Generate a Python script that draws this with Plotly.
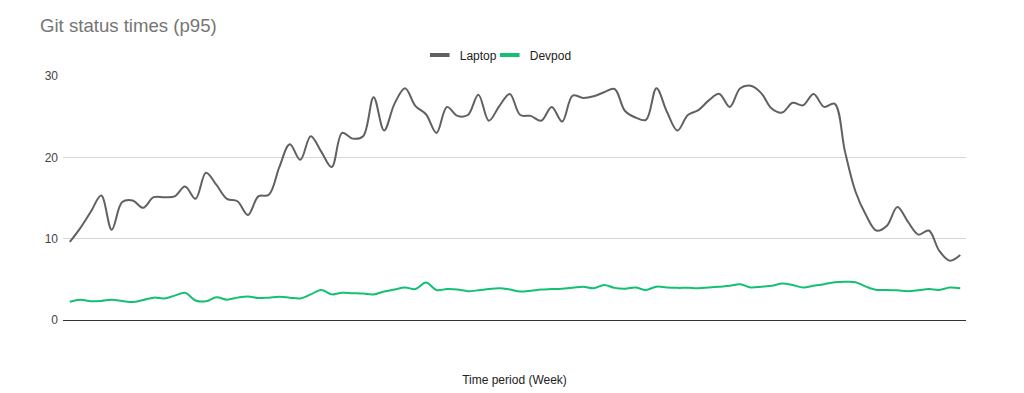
import plotly.graph_objects as go

weeks = list(range(1, 87))

laptop = [
    9.6, 11.3, 13.3, 15.3, 11.1, 14.5, 14.7, 13.8, 15.1, 15.1,
    15.2, 16.4, 14.9, 18.1, 16.6, 14.9, 14.6, 12.9, 15.2, 15.4,
    18.8, 21.6, 19.7, 22.6, 20.7, 18.8, 23.0, 22.3, 22.6, 27.4,
    23.3, 26.6, 28.5, 26.3, 25.3, 23.0, 26.2, 25.1, 25.2, 27.7,
    24.5, 26.3, 27.8, 25.2, 25.1, 24.5, 26.2, 24.4, 27.6, 27.3,
    27.5, 28.0, 28.4, 25.7, 24.9, 24.6, 28.5, 25.6, 23.3, 25.2,
    25.8, 27.0, 27.8, 26.2, 28.5, 28.8, 27.9, 26.0, 25.5, 26.7,
    26.4, 27.8, 26.2, 26.6, 20.7, 15.8, 12.9, 11.0, 11.6, 13.9,
    12.1, 10.5, 11.0, 8.5, 7.3, 8.0,
]

devpod = [
    2.25, 2.5, 2.3, 2.35, 2.5, 2.35, 2.2, 2.45, 2.75, 2.65,
    3.0, 3.35, 2.4, 2.3, 2.8, 2.5, 2.75, 2.9, 2.7, 2.75,
    2.85, 2.75, 2.65, 3.15, 3.7, 3.15, 3.35, 3.3, 3.25, 3.15,
    3.5, 3.75, 4.0, 3.8, 4.6, 3.7, 3.8, 3.75, 3.55, 3.65,
    3.8, 3.9, 3.75, 3.5, 3.6, 3.75, 3.8, 3.85, 3.95, 4.1,
    3.9, 4.3, 3.95, 3.85, 4.0, 3.7, 4.1, 4.0, 3.95, 3.95,
    3.9, 4.0, 4.1, 4.2, 4.4, 4.0, 4.1, 4.2, 4.5, 4.3,
    4.0, 4.2, 4.4, 4.65, 4.7, 4.65, 4.1, 3.7, 3.7, 3.65,
    3.55, 3.65, 3.8, 3.7, 4.0, 3.9,
]

series_names = ["Laptop", "Devpod"]
series_colors = ["#616161", "#14c172"]
legend_widths = [25, None]
y_ticks = [0, 10, 20, 30]

FONT = "Liberation Sans, Arial, sans-serif"

fig = go.Figure()
for name, vals, col in zip(series_names, [laptop, devpod], series_colors):
    fig.add_trace(go.Scatter(
        x=weeks, y=vals, name=name, mode="lines", showlegend=False,
        legendgroup=name,
        line=dict(color=col, width=2, shape="spline", smoothing=1.0),
    ))
# legend-only entries with short thick bar icons
for name, col, lw in zip(series_names, series_colors, legend_widths):
    fig.add_trace(go.Scatter(
        x=[None], y=[None], name=name, mode="markers", legendgroup=name,
        legendwidth=lw,
        marker=dict(symbol="line-ew", size=14, color=col,
                    line=dict(color=col, width=4)),
    ))

fig.update_layout(
    width=1024, height=393,
    margin=dict(l=63, r=58, t=76, b=73),
    paper_bgcolor="white", plot_bgcolor="white",
    font=dict(family=FONT, size=12, color="#222222"),
    title=dict(
        text="Git status times (p95)",
        x=40 / 1024, xanchor="left", xref="container",
        y=1 - 25 / 393, yanchor="middle", yref="container",
        font=dict(family=FONT, size=18.6, color="#757575"),
    ),
    legend=dict(
        orientation="h", x=0.482, xanchor="center",
        y=1.086, yanchor="middle",
        font=dict(family=FONT, size=12, color="#222222"),
        itemwidth=30, bgcolor="rgba(0,0,0,0)",
    ),
    showlegend=True,
)

fig.update_xaxes(
    range=[weeks[0] - 0.65, weeks[-1] + 0.55],
    showgrid=False, showticklabels=False, ticks="",
    showline=True, linecolor="#333333", linewidth=1,
    zeroline=False,
    title=dict(text="Time period (Week)", standoff=55,
               font=dict(family=FONT, size=12, color="#222222")),
    automargin=False,
)
fig.update_yaxes(
    range=[0, 30], tickvals=y_ticks, ticktext=[str(v) for v in y_ticks],
    showgrid=True, gridcolor="#d6d6d6", gridwidth=1,
    zeroline=False, showline=False, ticks="",
    tickfont=dict(family=FONT, size=12, color="#444444"),
    ticklabelstandoff=4,
    automargin=False,
)

fig.write_html("out.html")
